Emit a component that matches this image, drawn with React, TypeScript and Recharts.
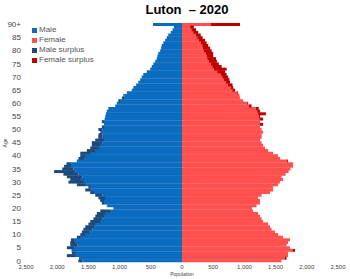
import React from 'react';
import { BarChart, Bar, XAxis, YAxis, Legend } from 'recharts';

const ages = [
  0, 1, 2, 3, 4, 5, 6, 7, 8, 9, 10, 11, 12, 13, 14, 15, 16, 17, 18, 19,
  20, 21, 22, 23, 24, 25, 26, 27, 28, 29, 30, 31, 32, 33, 34, 35, 36, 37, 38, 39,
  40, 41, 42, 43, 44, 45, 46, 47, 48, 49, 50, 51, 52, 53, 54, 55, 56, 57, 58, 59,
  60, 61, 62, 63, 64, 65, 66, 67, 68, 69, 70, 71, 72, 73, 74, 75, 76, 77, 78, 79,
  80, 81, 82, 83, 84, 85, 86, 87, 88, 89, 90,
];

const male = [
  1660, 1650, 1845, 1765, 1770, 1845, 1790, 1790, 1780, 1685,
  1630, 1605, 1580, 1550, 1500, 1470, 1420, 1390, 1365, 1310,
  1100, 1205, 1285, 1310, 1340, 1390, 1470, 1550, 1500, 1685,
  1820, 1790, 1845, 1900, 2050, 1920, 1890, 1850, 1685, 1660,
  1630, 1630, 1525, 1470, 1445, 1445, 1390, 1340, 1340, 1310,
  1340, 1285, 1250, 1285, 1240, 1230, 1220, 1205, 1180, 1070,
  1045, 1020, 965, 940, 885, 805, 780, 735, 700, 670,
  645, 620, 565, 510, 485, 460, 430, 405, 395, 380,
  350, 335, 325, 300, 270, 245, 220, 180, 150, 130,
  465,
];

const female = [
  1595, 1675, 1700, 1700, 1810, 1730, 1675, 1700, 1730, 1620,
  1540, 1490, 1435, 1410, 1380, 1300, 1275, 1250, 1220, 1140,
  1115, 1195, 1250, 1250, 1220, 1275, 1410, 1460, 1460, 1540,
  1570, 1620, 1595, 1660, 1710, 1740, 1780, 1780, 1700, 1570,
  1540, 1460, 1380, 1330, 1300, 1275, 1250, 1275, 1275, 1300,
  1275, 1250, 1300, 1250, 1300, 1250, 1345, 1250, 1230, 1115,
  1060, 980, 930, 920, 900, 850, 820, 810, 770, 760,
  740, 715, 690, 715, 635, 590, 560, 545, 500, 500,
  475, 450, 420, 395, 370, 330, 300, 260, 225, 190,
  930,
];

const xTicks = [-2500, -2000, -1500, -1000, -500, 0, 500, 1000, 1500, 2000, 2500];
const title = 'Luton  – 2020';
const seriesNames = ['Male', 'Female', 'Male surplus', 'Female surplus'];
const seriesColors = ['#0b6cbf', '#ff5050', '#1d4a7c', '#c00000'];

const data = ages.map((a, i) => {
  const m = male[i];
  const f = female[i];
  const base = Math.min(m, f);
  return {
    age: a,
    maleBase: -base,
    maleSurplus: -Math.max(m - f, 0),
    femaleBase: base,
    femaleSurplus: Math.max(f - m, 0),
  };
});

const font = "'Liberation Sans', Arial, sans-serif";

const LegendContent = () => (
  <div style={{ fontFamily: font, fontSize: 8, color: '#555', lineHeight: '10px' }}>
    {seriesNames.map((n, i) => (
      <div key={n} style={{ display: 'flex', alignItems: 'center', height: 10 }}>
        <span style={{ display: 'inline-block', width: 5, height: 5, background: seriesColors[i], marginRight: 2 }} />
        <span>{n}</span>
      </div>
    ))}
  </div>
);

export default function App() {
  return (
    <div style={{ position: 'relative', width: 350, height: 279, background: '#fff', fontFamily: font }}>
      <style>{`body{margin:0;}`}</style>
      <div style={{ position: 'absolute', top: 2, left: 12, width: 350, textAlign: 'center', fontSize: 13, fontWeight: 'bold', color: '#000', whiteSpace: 'pre' }}>
        {title}
      </div>
      <div style={{ position: 'absolute', left: 0, top: 136, width: 10, height: 14, display: 'flex', alignItems: 'center', justifyContent: 'center' }}>
        <span style={{ transform: 'rotate(-90deg)', fontSize: 5, color: '#444', display: 'inline-block' }}>Age</span>
      </div>
      <div style={{ position: 'absolute', left: 157, top: 271, width: 50, textAlign: 'center', fontSize: 5, color: '#444' }}>
        Population
      </div>
      <BarChart
        width={350}
        height={279}
        data={data}
        layout="vertical"
        stackOffset="sign"
        barCategoryGap={0}
        barGap={0}
        margin={{ top: 23, right: 12, bottom: 5, left: 6 }}
      >
        <XAxis
          type="number"
          domain={[-2500, 2500]}
          ticks={xTicks}
          allowDataOverflow
          axisLine={false}
          tickLine={false}
          tickSize={0}
          tickMargin={3}
          height={12}
          tick={{ fontSize: 6, fill: '#444', fontFamily: font }}
          tickFormatter={(v: number) => Math.abs(v).toLocaleString('en-US')}
        />
        <YAxis
          type="category"
          dataKey="age"
          reversed
          width={20}
          interval={4}
          axisLine={false}
          tickLine={false}
          tickSize={0}
          tickMargin={5}
          tick={{ fontSize: 8, fill: '#444', fontFamily: font }}
          tickFormatter={(v: number) => (v === 90 ? '90+' : String(v))}
        />
        <Legend
          layout="horizontal"
          verticalAlign="middle"
          align="center"
          content={<LegendContent />}
          wrapperStyle={{ position: 'absolute', top: 25, left: 32, width: 80, height: 42 }}
        />
        <Bar dataKey="maleBase" stackId="p" fill={seriesColors[0]} isAnimationActive={false} />
        <Bar dataKey="maleSurplus" stackId="p" fill={seriesColors[2]} isAnimationActive={false} />
        <Bar dataKey="femaleBase" stackId="p" fill={seriesColors[1]} isAnimationActive={false} />
        <Bar dataKey="femaleSurplus" stackId="p" fill={seriesColors[3]} isAnimationActive={false} />
      </BarChart>
    </div>
  );
}
